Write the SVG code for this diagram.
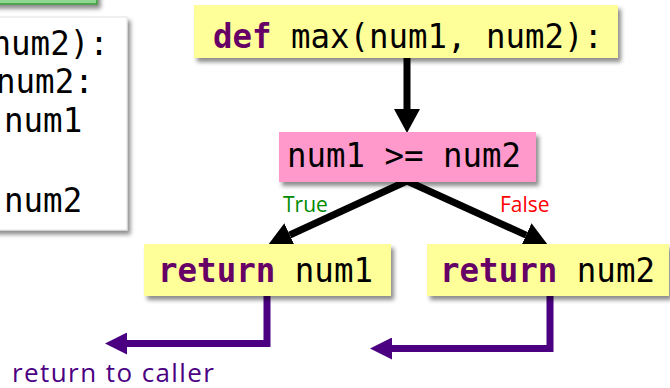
<svg xmlns="http://www.w3.org/2000/svg" width="670" height="388" viewBox="0 0 670 388">
  <defs>
    <filter id="shadow" x="-10%" y="-20%" width="130%" height="160%">
      <feDropShadow dx="3" dy="4" stdDeviation="2.2" flood-color="#000" flood-opacity="0.45"/>
    </filter>
    <marker id="headBlack" markerUnits="userSpaceOnUse" markerWidth="24" markerHeight="26" refX="0" refY="13" orient="auto">
      <path d="M0,0 L24,13 L0,26 z" fill="#000"/>
    </marker>
    <marker id="headPurple" markerUnits="userSpaceOnUse" markerWidth="22" markerHeight="22" refX="0" refY="11" orient="auto">
      <path d="M0,0 L22,11 L0,22 z" fill="#4b0082"/>
    </marker>
  </defs>
  <style>
    .code { font-family: "DejaVu Sans Mono", "Liberation Mono", monospace; font-size: 34px; fill: #000; }
    .kw { font-weight: bold; fill: #660066; }
    .yellow { fill: #ffff99; filter: url(#shadow); }
    .pink { fill: #ff99cc; filter: url(#shadow); }
    .label { font-family: "Open Sans", "Liberation Sans", sans-serif; font-size: 21px; }
    .flow { fill: none; stroke: #000; stroke-width: 7; }
    .ret { fill: none; stroke: #4b0082; stroke-width: 7; }
  </style>

  <!-- partly hidden panel at the top left -->
  <rect x="-10" y="-20" width="107" height="24" fill="#8fd88f" stroke="#3a9a3a" stroke-width="1.5" filter="url(#shadow)"/>

  <!-- code listing panel -->
  <g id="code-panel">
    <rect x="-10" y="17" width="137" height="213" fill="#ffffff" stroke="#e2e2e2" stroke-width="1" filter="url(#shadow)"/>
    <text class="code" x="-8.5" y="55" textLength="117.3" lengthAdjust="spacingAndGlyphs">num2):</text>
    <text class="code" x="-4" y="93" textLength="97.75" lengthAdjust="spacingAndGlyphs">num2:</text>
    <text class="code" x="4" y="132" textLength="78.2" lengthAdjust="spacingAndGlyphs">num1</text>
    <text class="code" x="4" y="212" textLength="78.2" lengthAdjust="spacingAndGlyphs">num2</text>
  </g>

  <!-- connectors -->
  <g id="connectors">
    <line class="flow" x1="407" y1="58" x2="407" y2="109" marker-end="url(#headBlack)"/>
    <line class="flow" x1="407" y1="181" x2="289.8" y2="235" marker-end="url(#headBlack)"/>
    <line class="flow" x1="407" y1="181" x2="526.1" y2="235.1" marker-end="url(#headBlack)"/>
    <path class="ret" d="M267,296 V343.5 H127" marker-end="url(#headPurple)"/>
    <path class="ret" d="M550,296 V348.5 H392" marker-end="url(#headPurple)"/>
  </g>

  <!-- function header -->
  <g id="node-def">
    <rect class="yellow" x="194" y="5" width="424" height="53"/>
    <text class="code" x="213" y="48" textLength="390" lengthAdjust="spacingAndGlyphs"><tspan class="kw">def</tspan> max(num1, num2):</text>
  </g>

  <!-- comparison -->
  <g id="node-cond">
    <rect class="pink" x="279" y="132" width="257" height="50"/>
    <text class="code" x="287" y="167" textLength="234" lengthAdjust="spacingAndGlyphs">num1 &gt;= num2</text>
  </g>

  <!-- branch labels -->
  <text class="label" x="283" y="212" fill="#008a00">True</text>
  <text class="label" x="500" y="212" fill="#ff0000">False</text>

  <!-- return branches -->
  <g id="node-ret1">
    <rect class="yellow" x="144" y="244" width="247" height="52"/>
    <text class="code" x="158" y="282" textLength="215" lengthAdjust="spacingAndGlyphs"><tspan class="kw">return</tspan> num1</text>
  </g>
  <g id="node-ret2">
    <rect class="yellow" x="427" y="244" width="242" height="52"/>
    <text class="code" x="440" y="282" textLength="215" lengthAdjust="spacingAndGlyphs"><tspan class="kw">return</tspan> num2</text>
  </g>

  <!-- caller note -->
  <text x="12" y="382" font-family="'Open Sans', 'Liberation Sans', sans-serif" font-size="26" fill="#4b0082" textLength="202">return to caller</text>
</svg>
